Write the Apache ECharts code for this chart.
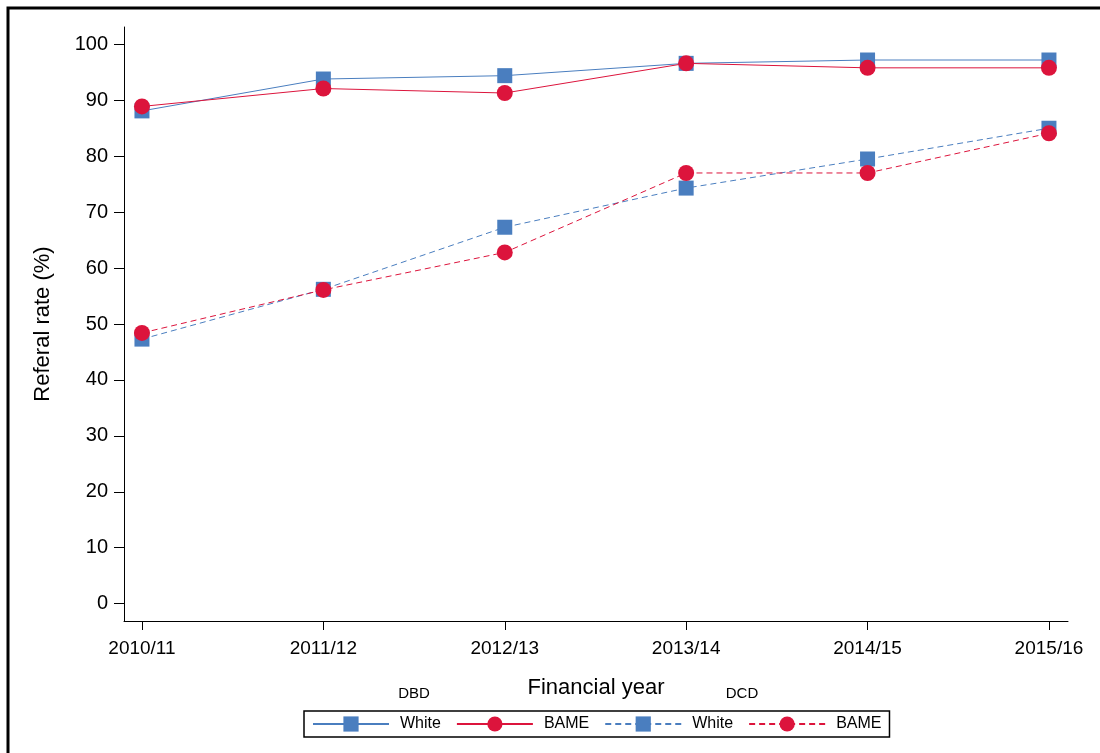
<!DOCTYPE html>
<html>
<head>
<meta charset="utf-8">
<title>Referral rate by financial year</title>
<script src="https://cdn.jsdelivr.net/npm/echarts@6/dist/echarts.min.js"></script>
<style>
html,body{margin:0;padding:0;background:#fff;}
#chart{width:1100px;height:753px;}
</style>
</head>
<body>
<div id="chart"></div>
<script>

const years = ["2010/11","2011/12","2012/13","2013/14","2014/15","2015/16"]
const yTicks = [0,10,20,30,40,50,60,70,80,90,100]

const dbdWhite = [88.1, 93.8, 94.4, 96.6, 97.2, 97.2]
const dbdBame = [88.9, 92.1, 91.3, 96.6, 95.8, 95.8]
const dcdWhite = [47.3, 56.2, 67.3, 74.3, 79.5, 85.0]
const dcdBame = [48.4, 56.1, 62.8, 77.0, 77.0, 84.1]

const blue = "#4a7ebf"
const red = "#dc143c"
const font = "'Liberation Sans', Arial, sans-serif"

function pts(vals){
  return vals.map((v,i)=>[i,v])
}

function line(name,vals,color,symbol,size,dashed){
  return {
    name:name,
    type:"line",
    data:pts(vals),
    symbol:symbol,
    symbolSize:size,
    itemStyle:{color:color},
    lineStyle:{color:color,width:1,type:dashed?[6,4]:"solid"},
    emphasis:{disabled:true},
    animation:false
  }
}

const chart = echarts.init(document.getElementById("chart"))

chart.setOption({
  textStyle:{fontFamily:font},
  grid:{left:124,right:32,top:27,bottom:132},
  xAxis:{
    type:"value",
    min:-0.099,
    max:5.105,
    name:"Financial year",
    nameLocation:"middle",
    nameGap:56,
    nameTextStyle:{fontSize:22,color:"#000",fontFamily:font},
    axisLine:{onZero:false,lineStyle:{color:"#000",width:1}},
    axisTick:{show:true,length:9,customValues:[0,1,2,3,4,5],lineStyle:{color:"#000"}},
    axisLabel:{
      customValues:[0,1,2,3,4,5],
      formatter:v=>years[v],
      fontSize:19,color:"#000",margin:18,fontFamily:font
    },
    splitLine:{show:false}
  },
  yAxis:{
    type:"value",
    min:-3.1,
    max:103.1,
    name:"Referal rate (%)",
    nameLocation:"middle",
    nameGap:70,
    nameTextStyle:{fontSize:22,color:"#000",fontFamily:font},
    axisLine:{show:true,onZero:false,lineStyle:{color:"#000",width:1}},
    axisTick:{show:true,length:10,customValues:yTicks,lineStyle:{color:"#000"}},
    axisLabel:{customValues:yTicks,fontSize:20,color:"#000",margin:16,fontFamily:font},
    splitLine:{show:false}
  },
  legend:{
    left:304,
    top:711,
    orient:"horizontal",
    itemWidth:76,
    itemHeight:19,
    itemGap:15,
    padding:[5,8,5,8],
    borderColor:"#000",
    borderWidth:1.5,
    data:["DBD White","DBD BAME","DCD White","DCD BAME"],
    formatter:n=>n.split(" ")[1],
    textStyle:{fontSize:16,color:"#000",fontFamily:font,padding:[0,0,0,6]},
    selectedMode:false
  },
  graphic:[
    {type:"rect",shape:{x:8,y:8,width:1200,height:800},style:{fill:"none",stroke:"#000",lineWidth:3},silent:true},
    {type:"text",x:414,y:694,style:{text:"DBD",font:"15px "+font,fill:"#000",align:"center",verticalAlign:"middle"}},
    {type:"text",x:742,y:694,style:{text:"DCD",font:"15px "+font,fill:"#000",align:"center",verticalAlign:"middle"}}
  ],
  series:[
    line("DBD White",dbdWhite,blue,"rect",15,false),
    line("DBD BAME",dbdBame,red,"circle",16,false),
    line("DCD White",dcdWhite,blue,"rect",15,true),
    line("DCD BAME",dcdBame,red,"circle",16,true)
  ]
})

</script>
</body>
</html>
